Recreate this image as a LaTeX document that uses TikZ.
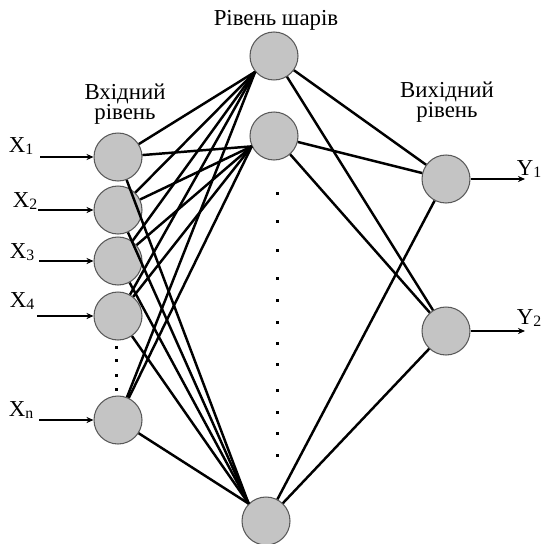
\documentclass[tikz,border=0pt]{standalone}
\usepackage{fontspec}
\setmainfont{Liberation Serif}
\usetikzlibrary{arrows.meta}
\newcommand{\lowidx}[1]{\raisebox{-1.5pt}{\fontsize{9}{9}\selectfont #1}}

\begin{document}
\begin{tikzpicture}[x=0.02cm,y=0.02cm,
  every node/.style={font=\fontsize{13}{11.5}\selectfont,inner sep=1pt},
  neuron/.style={circle,draw=black!65,fill=black!23,line width=0.6pt,minimum size=0.96cm,inner sep=0pt},
  link/.style={draw=black,line width=1.4pt},
  feed/.style={draw=black,line width=0.6pt,-{Stealth[length=4pt,width=3.5pt]}}]
\useasboundingbox (0,0) rectangle (543,-544);
% neurons
\node[neuron] (in1) at (118, -157) {};
\node[neuron] (in2) at (118, -210) {};
\node[neuron] (in3) at (118, -261) {};
\node[neuron] (in4) at (118, -316) {};
\node[neuron] (in5) at (118, -420) {};
\node[neuron] (hid1) at (274, -56) {};
\node[neuron] (hid2) at (274, -136) {};
\node[neuron] (hid3) at (266, -521) {};
\node[neuron] (out1) at (446, -179) {};
\node[neuron] (out2) at (446, -331) {};
% texts
\node[align=center] (tin) at (125, -104) {Вхідний\\рівень};
\node (thid) at (276, -20) {Рівень шарів};
\node[align=center] (tout) at (447, -102) {Вихідний\\рівень};
\node (lx1) at (21, -146) {X\lowidx{1}};
\node (lx2) at (25, -201) {X\lowidx{2}};
\node (lx3) at (22, -252) {X\lowidx{3}};
\node (lx4) at (22, -301) {X\lowidx{4}};
\node (lx5) at (21, -410) {X\lowidx{n}};
\node (ly1) at (529, -169) {Y\lowidx{1}};
\node (ly2) at (529, -318) {Y\lowidx{2}};
% free ends of the arrows
\coordinate (a1) at (40, -157);
\coordinate (a2) at (38, -210);
\coordinate (a3) at (39, -261);
\coordinate (a4) at (37, -316);
\coordinate (a5) at (39, -420);
\coordinate (b1) at (525, -179);
\coordinate (b2) at (525, -331);
\draw[feed] (a1) -- (in1);
\draw[feed] (a2) -- (in2);
\draw[feed] (a3) -- (in3);
\draw[feed] (a4) -- (in4);
\draw[feed] (a5) -- (in5);
\draw[feed] (out1) -- (b1);
\draw[feed] (out2) -- (b2);
% input -> hidden
\draw[link] (in1) -- (hid1.220);
\draw[link] (in1) -- (hid2.205);
\draw[link] (in1) -- (hid3.135);
\draw[link] (in2) -- (hid1.220);
\draw[link] (in2) -- (hid2.205);
\draw[link] (in2) -- (hid3.135);
\draw[link] (in3) -- (hid1.220);
\draw[link] (in3) -- (hid2.205);
\draw[link] (in3) -- (hid3.135);
\draw[link] (in4) -- (hid1.220);
\draw[link] (in4) -- (hid2.205);
\draw[link] (in4) -- (hid3.135);
\draw[link] (in5) -- (hid1.220);
\draw[link] (in5) -- (hid2.205);
\draw[link] (in5) -- (hid3.135);
% hidden -> output
\draw[link] (hid1) -- (out1);
\draw[link] (hid1) -- (out2);
\draw[link] (hid2) -- (out1);
\draw[link] (hid2) -- (out2);
\draw[link] (hid3) -- (out1);
\draw[link] (hid3) -- (out2);
% dots
\fill (114.5, -345.5) rectangle ++(3, -3);
\fill (114.5, -358.5) rectangle ++(3, -3);
\fill (114.5, -373.5) rectangle ++(3, -3);
\fill (114.5, -387.5) rectangle ++(3, -3);
\fill (275.5, -191.5) rectangle ++(3, -3);
\fill (275.5, -219.5) rectangle ++(3, -3);
\fill (275.5, -248.5) rectangle ++(3, -3);
\fill (275.5, -276.5) rectangle ++(3, -3);
\fill (275.5, -298.5) rectangle ++(3, -3);
\fill (275.5, -320.5) rectangle ++(3, -3);
\fill (275.5, -341.5) rectangle ++(3, -3);
\fill (275.5, -362.5) rectangle ++(3, -3);
\fill (275.5, -388.5) rectangle ++(3, -3);
\fill (275.5, -410.5) rectangle ++(3, -3);
\fill (275.5, -431.5) rectangle ++(3, -3);
\fill (275.5, -453.5) rectangle ++(3, -3);
\end{tikzpicture}
\end{document}
